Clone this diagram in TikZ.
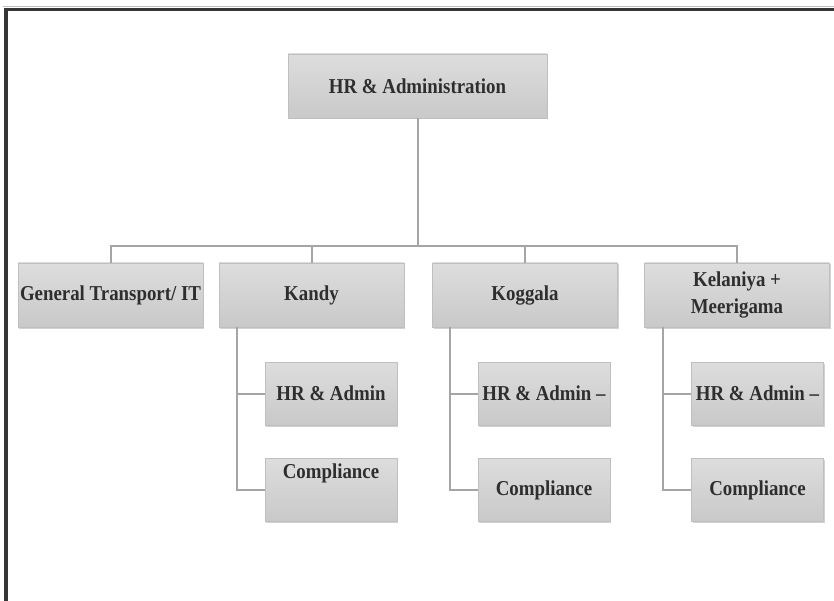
\documentclass[tikz,border=0pt]{standalone}
\usepackage{fontspec}
\setmainfont[FakeStretch=0.89]{Liberation Serif}
\usetikzlibrary{shadows}
\definecolor{boxtop}{HTML}{DDDDDD}
\definecolor{boxbot}{HTML}{C9C9C9}
\definecolor{boxline}{HTML}{BFBFBF}
\definecolor{conn}{HTML}{A5A5A5}
\definecolor{txtc}{HTML}{2E2E2E}
\definecolor{frame}{HTML}{363636}
\tikzset{
  orgbox/.style={draw=boxline, line width=0.8pt, top color=boxtop, bottom color=boxbot,
    minimum width=185pt, minimum height=64pt, inner xsep=0pt, inner ysep=2pt, align=center,
    text=txtc, font=\bfseries\fontsize{21.2}{26.5}\selectfont,
    drop shadow={shadow xshift=1.2pt, shadow yshift=-1.5pt, fill=black!35, opacity=0.5}},
  subbox/.style={orgbox, minimum width=132pt, minimum height=63pt},
  boxtext/.style={text=txtc, font=\bfseries\fontsize{21.2}{26.5}\selectfont, inner sep=0pt},
  link/.style={draw=conn, line width=2pt}
}
\begin{document}
\begin{tikzpicture}[x=1pt,y=-1pt]
\useasboundingbox (0,0) rectangle (834,601);
\fill[white] (0,0) rectangle (834,601);
% frame
\draw[black!25, line width=0.8pt] (3,6.5) -- (834,6.5);
\draw[frame, line width=3.5pt] (3.5,9.5) -- (834,9.5);
\draw[frame, line width=4pt] (5.5,8) -- (5.5,601);

% nodes
\node[orgbox, minimum width=259pt] (top) at (417.5,86) {HR \& Administration};
\node[orgbox] (gen) at (110.5,295) {General Transport/ IT};
\node[orgbox] (kan) at (311.5,295) {Kandy};
\node[orgbox] (kog) at (525,295) {Koggala};
\node[orgbox] (kel) at (737,295) {Kelaniya +\\Meerigama};

\node[subbox] (kanhr) at (331,393.5) {HR \& Admin};
\node[subbox] (kanco) at (331,490) {};
\node[boxtext, anchor=center] (kancot) at (331,473) {Compliance};
\node[subbox] (koghr) at (544,393.5) {HR \& Admin –};
\node[subbox] (kogco) at (544,490) {Compliance};
\node[subbox] (kelhr) at (757.5,393.5) {HR \& Admin –};
\node[subbox] (kelco) at (757.5,490) {Compliance};

% connectors
\coordinate (bus) at (417.5,246);
\draw[link] (top.south) -- (bus);
\draw[link] (gen.north) -- (gen.north |- bus) -- (kel.north |- bus) -- (kel.north);
\draw[link] (kan.north) -- (kan.north |- bus);
\draw[link] (kog.north) -- (kog.north |- bus);

\coordinate (kanl) at ([xshift=18pt]kan.south west);
\coordinate (kogl) at ([xshift=18pt]kog.south west);
\coordinate (kell) at ([xshift=19pt]kel.south west);
\draw[link] (kanl) |- (kanco.west);
\draw[link] (kanl |- kanhr.west) -- (kanhr.west);
\draw[link] (kogl) |- (kogco.west);
\draw[link] (kogl |- koghr.west) -- (koghr.west);
\draw[link] (kell) |- (kelco.west);
\draw[link] (kell |- kelhr.west) -- (kelhr.west);
\end{tikzpicture}
\end{document}
